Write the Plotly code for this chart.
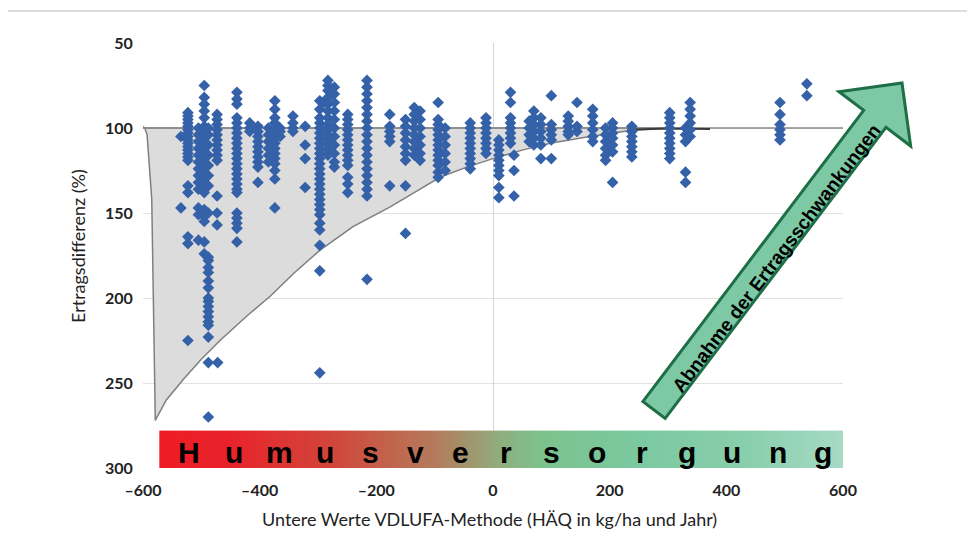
import plotly.graph_objects as go
import numpy as np

# ---------------- data ----------------
# scatter columns: x position (kg/ha HÄQ) and the yield differences (%) observed there
col_x = [-535, -523, -505, -495, -488, -472, -473, -439, -417, -403,
         -385, -374, -365, -343, -322, -297, -290, -283, -272, -249,
         -216, -177, -150, -135, -125, -94, -82, -39, -12, 10,
         30, 36, 62, 70, 82, 100, 129, 144, 171, 193,
         205, 238, 303, 330, 338, 492, 538]
col_y = [
    [105, 147],
    [91, 93, 95, 97, 99, 101, 103, 105, 107, 109, 111, 113, 115, 117, 119, 134, 138, 164, 168, 225],
    [100, 104, 108, 112, 116, 120, 124, 128, 132, 136, 147, 151, 166],
    [75, 82, 86, 90, 94, 99, 102, 105, 108, 111, 114, 117, 120, 123, 126, 129, 132, 135, 138, 148, 152, 155, 167, 174],
    [100, 104, 110, 116, 122, 128, 134, 150, 176, 178, 182, 185, 190, 194, 200, 202, 205, 208, 211, 214, 216, 223, 238, 270],
    [238],
    [92, 95, 98, 101, 104, 107, 110, 113, 116, 119, 140, 150, 157],
    [79, 83, 86, 94, 97, 100, 103, 106, 109, 112, 115, 118, 121, 124, 127, 130, 133, 136, 138, 150, 153, 156, 159, 167],
    [97, 100, 102],
    [99, 102, 105, 108, 111, 114, 117, 120, 123, 132],
    [100, 104, 108, 112, 116, 120],
    [84, 89, 94, 97, 100, 103, 106, 109, 112, 115, 118, 121, 125, 130, 147],
    [100, 102, 105],
    [93, 97, 100, 102],
    [99, 110, 118, 135],
    [84, 89, 94, 97, 100, 103, 106, 109, 112, 115, 118, 121, 124, 127, 130, 133, 136, 139, 142, 145, 148, 151, 156, 160, 169, 184, 244],
    [85],
    [72, 75, 78, 82, 86, 90, 94, 98, 101, 104, 107, 110, 113, 116],
    [76, 80, 85, 90, 95, 100, 105, 110, 115, 120, 123],
    [92, 95, 98, 101, 104, 107, 110, 113, 116, 119, 122, 129, 133, 138],
    [72, 76, 80, 84, 88, 92, 96, 100, 104, 108, 112, 116, 120, 124, 128, 132, 136, 140, 189],
    [92, 99, 102, 105, 108, 134],
    [95, 99, 103, 107, 111, 115, 119, 134, 162],
    [88, 92, 96, 100, 104, 108, 112, 116],
    [90, 95, 100, 105, 110, 115, 119],
    [85, 95, 98, 101, 104, 107, 110, 113, 116, 119, 122, 126, 129],
    [100, 105, 110, 115, 120, 125],
    [97, 100, 103, 106, 109, 112, 115, 118, 121, 124],
    [94, 97, 100, 103, 106, 109, 112, 115],
    [107, 110, 113, 116, 119, 122, 125, 128, 135, 141],
    [79, 85, 94, 97, 100, 103, 106, 109],
    [116, 125, 140],
    [96, 100, 104, 108],
    [90, 94, 98, 102, 106, 110],
    [94, 98, 102, 106, 110, 118],
    [81, 98, 101, 104, 107, 118],
    [93, 96, 99, 102, 104],
    [85, 99, 102],
    [89, 93, 97, 101, 105, 108],
    [100, 104, 108, 112, 116, 119],
    [97, 100, 103, 106, 110, 114, 132],
    [99, 102, 105, 108, 111, 114, 117],
    [91, 94, 97, 100, 103, 106, 109, 112, 115, 118],
    [100, 104, 108, 126, 132],
    [85, 89, 93, 97, 101, 105],
    [85, 92, 98, 101, 104, 107],
    [74, 81],
]

# envelope (grey area): upper edge at 100 %, lower edge curve
env_x = [-601, -597, -593, -585, -579, -579, -560, -531, -500, -468, -420, -382, -340,
         -297, -240, -177, -130, -91, -45, 0, 50, 98, 166, 235, 300, -601]
env_y = [99, 100, 104, 142, 270, 272, 260, 248, 236, 225, 210, 199, 185,
         172, 158, 146.5, 137, 129, 123, 118, 113, 109, 105, 101.5, 100, 100]
ref_x = [-601, 600]
ref_y = [100, 100]
dark_x = [230, 300, 372]
dark_y = [101, 100.3, 100.6]

x_tickvals = [-600, -400, -200, 0, 200, 400, 600]
x_ticktext = ["–600", "–400", "–200", "0", "200", "400", "600"]
y_tickvals = [50, 100, 150, 200, 250, 300]
y_ticktext = ["50", "100", "150", "200", "250", "300"]

bar_letters = list("Humusversorgung")
bar_x_range = [-572, 600]
bar_y_range = [278, 300.6]
arrow_label = "Abnahme der Ertragsschwankungen"
x_title = "Untere Werte VDLUFA-Methode (HÄQ in kg/ha und Jahr)"
y_title = "Ertragsdifferenz (%)"

# ---------------- layout geometry ----------------
OFF = 8  # page body margin of the html page
W, H = 975, 538
L, T = 143 - OFF, 43 - OFF
PW, PH = 700, 425
R = W - L - PW
B = H - T - PH


def pxx(p):
    """screen pixel x -> paper"""
    return (p - OFF - L) / PW


def pxy(p):
    """screen pixel y -> paper"""
    return (T + PH - (p - OFF)) / PH


pts_x = [x for x, ys in zip(col_x, col_y) for _ in ys]
pts_y = [y for ys in col_y for y in ys]

fig = go.Figure()

# gradient bar
n = 240
edges = np.linspace(bar_x_range[0], bar_x_range[1], n + 1)
fig.add_trace(go.Heatmap(
    x=edges, y=bar_y_range, z=[np.linspace(0, 1, n)],
    colorscale=[[0, "#ed1c24"], [0.1, "#e9222a"], [0.25, "#d2453a"], [0.4, "#b57a5b"],
                [0.5, "#8fae7e"], [0.56, "#7cc28d"], [0.7, "#7bc9a0"], [0.85, "#87ceab"],
                [1, "#a6dac4"]],
    showscale=False, hoverinfo="skip"))

fig.add_trace(go.Scatter(x=env_x, y=env_y, mode="lines", fill="toself",
                         fillcolor="#dcdcdc", line=dict(color="#7f7f7f", width=1.5),
                         hoverinfo="skip", showlegend=False))
fig.add_trace(go.Scatter(x=ref_x, y=ref_y, mode="lines",
                         line=dict(color="#8a8a8a", width=1.5), showlegend=False))
fig.add_trace(go.Scatter(x=dark_x, y=dark_y, mode="lines",
                         line=dict(color="#3a3a3a", width=2), showlegend=False))
fig.add_trace(go.Scatter(x=pts_x, y=pts_y, mode="markers",
                         marker=dict(symbol="diamond", size=9, color="#3461a7"),
                         showlegend=False))

annotations = []
# letters
for i, ch in enumerate(bar_letters):
    cx = 189 + i * (823 - 189) / (len(bar_letters) - 1)
    annotations.append(dict(x=pxx(cx), y=pxy(452), xref="paper", yref="paper",
                            text=ch, showarrow=False, xanchor="center", yanchor="middle",
                            font=dict(family="Liberation Sans, Arial", size=30, color="black",
                                      weight="bold")))

# arrow
Tp = np.array([902.0, 83.0])
Bp = np.array([654.0, 410.0])
u = (Tp - Bp) / np.linalg.norm(Tp - Bp)
nv = np.array([-u[1], u[0]])
Hc = Tp - 45 * u
poly = [Bp - 14 * nv, Hc - 14 * nv, Hc - 45 * nv, Tp, Hc + 45 * nv, Hc + 14 * nv, Bp + 14 * nv]
path = "M " + " L ".join(f"{pxx(p[0]):.5f},{pxy(p[1]):.5f}" for p in poly) + " Z"

shapes = [
    dict(type="rect", xref="paper", yref="paper", x0=pxx(7), x1=pxx(1000), y0=pxy(11), y1=pxy(560),
         fillcolor="rgba(0,0,0,0)", line=dict(color="#d4d4d4", width=1.5), layer="below"),
    dict(type="path", xref="paper", yref="paper", path=path, fillcolor="#7dc8a5",
         line=dict(color="#1e6e46", width=3), layer="above"),
]

ang = np.degrees(np.arctan2(Bp[1] - Tp[1], Tp[0] - Bp[0]))
annotations.append(dict(x=pxx(776), y=pxy(258), xref="paper", yref="paper", text=arrow_label,
                        showarrow=False, textangle=-ang, xanchor="center", yanchor="middle",
                        font=dict(family="Liberation Sans, Arial", size=19, color="black",
                                  weight="bold")))
annotations.append(dict(x=pxx(489), y=pxy(519), xref="paper", yref="paper", text=x_title,
                        showarrow=False, xanchor="center", yanchor="middle",
                        font=dict(family="Lato", size=18, color="#222222")))
annotations.append(dict(x=pxx(78), y=pxy(246), xref="paper", yref="paper", text=y_title,
                        showarrow=False, textangle=-90, xanchor="center", yanchor="middle",
                        font=dict(family="Lato", size=18, color="#222222")))

fig.update_layout(
    width=W, height=H, margin=dict(l=L, r=R, t=T, b=B),
    paper_bgcolor="white", plot_bgcolor="white",
    shapes=shapes, annotations=annotations, showlegend=False,
    xaxis=dict(range=[-600, 600], tickvals=x_tickvals, ticktext=x_ticktext,
               showgrid=False, zeroline=True, zerolinecolor="#d6d6d6", zerolinewidth=1,
               showline=False, ticks="outside", ticklen=8, tickcolor="rgba(0,0,0,0)",
               tickfont=dict(family="Lato", size=16, color="#222222", weight="bold")),
    yaxis=dict(range=[300, 50], tickvals=y_tickvals, ticktext=y_ticktext,
               showgrid=True, gridcolor="#e2e2e2", gridwidth=1, zeroline=False,
               showline=False, ticks="outside", ticklen=6, tickcolor="rgba(0,0,0,0)",
               tickfont=dict(family="Lato", size=16, color="#222222", weight="bold")),
)

fig.write_html("out.html")
